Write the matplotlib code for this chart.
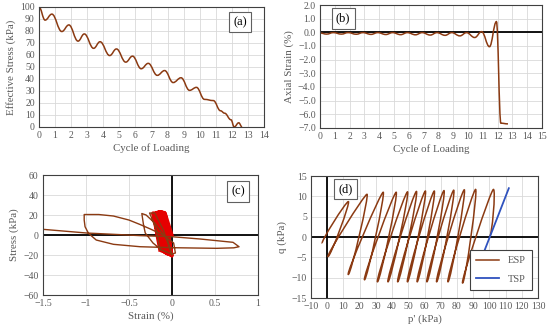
import matplotlib
matplotlib.use('Agg')
import matplotlib.pyplot as plt
from matplotlib.path import Path
from matplotlib.patches import PathPatch
from matplotlib.lines import Line2D

plt.rcParams['font.family'] = ['Liberation Serif', 'DejaVu Serif']

BROWN = '#8B3A12'
RED = '#E60000'
BLUE = '#2F52BE'
GRID = '#D9D9D9'
TXT = '#595959'

# (a) effective stress vs cycle: turning points of the curve
a_cycle = [0, 0.38, 0.8, 1.42, 1.86, 2.43, 2.82, 3.4, 3.8, 4.4, 4.82, 5.4, 5.82,
           6.36, 6.8, 7.36, 7.82, 8.35, 8.84, 9.37, 9.8, 10.3, 10.85, 11.3, 11.55,
           11.95, 12.15, 12.43, 12.64]
a_stress = [100, 89, 94, 79.5, 85, 71.5, 77.5, 65.5, 71, 59.5, 65, 54, 59,
            48.5, 53, 43, 47, 37, 41, 30.5, 33, 23, 22, 13.5, 11.5,
            6, 0, 3.5, 0]

# (b) axial strain vs cycle: turning points
b_cycle = [0, 0.45, 0.9, 1.45, 1.9, 2.45, 2.9, 3.45, 3.9, 4.45, 4.9, 5.45, 5.9,
           6.45, 6.9, 7.45, 7.9, 8.45, 8.9, 9.45, 9.9, 10.45, 10.92, 11.45,
           11.92, 12.22, 12.7]
b_strain = [-0.05, -0.13, -0.02, -0.13, -0.02, -0.14, -0.02, -0.15, -0.02, -0.16,
            -0.02, -0.17, -0.02, -0.18, -0.02, -0.2, -0.02, -0.22, -0.02, -0.26,
            -0.02, -0.38, 0.05, -1.05, 0.78, -6.65, -6.7]

# (c) stress-strain: early cycles (red) and last cycles (brown)
c_red_strain = [0.0, -0.08, 0.0, -0.09, -0.01, -0.10, -0.02, -0.11, -0.03, -0.12,
                -0.04, -0.13, -0.05, -0.14, -0.06, -0.15, -0.07, -0.16, -0.08,
                -0.17, -0.09, -0.18, -0.10, -0.20, -0.12, -0.22, -0.14]
c_red_stress = [0, 22, -21, 22.5, -20, 22.5, -20, 23, -19.5, 23, -19, 23, -19,
                23, -18.5, 23, -18, 23, -17.5, 22.5, -17, 22.5, -16.5, 22, -16,
                22, -15]
c_brn_strain = [-0.14, -0.18, -0.24, -0.26, -0.2, -0.1, -0.02, 0.0, -0.05, -0.2,
                -0.3, -0.35, -0.33, -0.31, -0.22, -0.12, 0.0, 0.04, 0.02, -0.1,
                -0.25, -0.37, -0.5, -0.68, -0.85, -1.02, -1.02, -1.01, -0.97,
                -0.88, -0.68, -0.37, 0.02, 0.52, 0.72, 0.78, 0.71, 0.33, 0.0,
                -0.37, -0.99, -1.5, -1.7]
c_brn_stress = [-15, 5, 18, 22, 22, 5, -15, -20, -5, 12,
                20, 21.5, 10, 2, -8, -15, -19, -18, -8, 0,
                6, 10.5, 15, 19, 20.5, 20.5, 15, 8.3, 1.7,
                -5, -9.3, -11.7, -12.7, -13.3, -12.8, -11.7, -7.3, -4, -1.7,
                -0.6, 2, 5.7, 7]

# (d) stress path: ESP turning points (start, tops and bottoms) and TSP
esp_p = [100, 102.5, 83.5, 91.5, 74.5, 84.5, 67.5, 78, 61.5, 72, 55.5, 66,
         49.5, 60.5, 43.5, 55, 37.5, 49.5, 31, 42.5, 23, 34.5, 13, 24.5,
         0.5, 13, -3]
esp_q = [0, 11.7, -11.3, 11.7, -11, 11.6, -11, 11.5, -11, 11.4, -11, 11.3,
         -11, 11.3, -11, 11.2, -11, 11.1, -11, 11, -10.5, 11, -9.2, 10.5,
         -4.8, 8.7, -1.5]
tsp_p = [89, 112]
tsp_q = [-11.5, 12]


def wave_path(x, y, k=0.4):
    # horizontal tangents at each turning point
    verts = [(x[0], y[0])]
    codes = [Path.MOVETO]
    for i in range(len(x) - 1):
        dx = x[i + 1] - x[i]
        verts += [(x[i] + k * dx, y[i]), (x[i + 1] - k * dx, y[i + 1]), (x[i + 1], y[i + 1])]
        codes += [Path.CURVE4] * 3
    return Path(verts, codes)


def loop_path(p, q, a=1.6):
    # rounded tips: moving left at tops, right at bottoms
    verts = [(p[0], q[0])]
    codes = [Path.MOVETO]
    for i in range(len(p) - 1):
        s = a if q[i + 1] > q[i] else -a
        verts += [(p[i] + s, q[i]), (p[i + 1] + s, q[i + 1]), (p[i + 1], q[i + 1])]
        codes += [Path.CURVE4] * 3
    return Path(verts, codes)


def style(ax, xt, yt, xlab, ylab, xfmt=None, yfmt=None):
    ax.set_xticks(xt)
    ax.set_yticks(yt)
    ax.set_xlim(xt[0], xt[-1])
    ax.set_ylim(yt[0], yt[-1])
    if xfmt:
        ax.set_xticklabels([xfmt(v) for v in xt])
    if yfmt:
        ax.set_yticklabels([yfmt(v) for v in yt])
    ax.grid(True, color=GRID, lw=0.6)
    ax.set_axisbelow(True)
    for s in ax.spines.values():
        s.set_color('#404040')
        s.set_linewidth(0.8)
    ax.tick_params(length=0, pad=3, labelsize=7, colors=TXT)
    ax.set_xlabel(xlab, fontsize=7.8, color=TXT, labelpad=2)
    ax.set_ylabel(ylab, fontsize=7.8, color=TXT, labelpad=3)


def tag(ax, txt, x, y):
    ax.text(x, y, txt, transform=ax.transAxes, ha='center', va='center',
            fontsize=9, color='#000000', zorder=10,
            bbox=dict(boxstyle='square,pad=0.35', fc='white', ec='#606060', lw=0.8))


def minus(v):
    s = ('%g' % v)
    return s.replace('-', '\u2212')


fig = plt.figure(figsize=(5.5, 3.29), dpi=100)

# (a)
ax1 = fig.add_axes([0.0709, 0.614, 0.409, 0.365])
ax1.add_patch(PathPatch(wave_path(a_cycle, a_stress), fill=False, ec=BROWN, lw=1.1))
style(ax1, list(range(0, 15)), list(range(0, 101, 10)), 'Cycle of Loading', 'Effective Stress (kPa)')
tag(ax1, '(a)', 0.893, 0.875)

# (b)
ax2 = fig.add_axes([0.5818, 0.611, 0.4037, 0.3738])
ax2.axhline(0, color='black', lw=1.3, zorder=1.5)
ax2.add_patch(PathPatch(wave_path(b_cycle, b_strain), fill=False, ec=BROWN, lw=1.1, zorder=2))
style(ax2, list(range(0, 16)), list(range(-7, 3)), 'Cycle of Loading', 'Axial Strain (%)',
      yfmt=lambda v: ('%.1f' % v).replace('-', '\u2212'))
tag(ax2, '(b)', 0.104, 0.89)

# (c)
ax3 = fig.add_axes([0.078, 0.1033, 0.391, 0.3647])
ax3.axhline(0, color='black', lw=1.3, zorder=1.5)
ax3.axvline(0, color='black', lw=1.3, zorder=1.5)
ax3.plot(c_red_strain, c_red_stress, color=RED, lw=2.4, zorder=2)
ax3.plot(c_brn_strain, c_brn_stress, color=BROWN, lw=1.0, zorder=2.5)
style(ax3, [-1.5, -1, -0.5, 0, 0.5, 1], list(range(-60, 61, 20)), 'Strain (%)', 'Stress (kPa)',
      xfmt=minus, yfmt=minus)
tag(ax3, '(c)', 0.907, 0.8625)

# (d)
ax4 = fig.add_axes([0.5655, 0.0942, 0.4127, 0.3708])
ax4.axhline(0, color='black', lw=1.3, zorder=1.5)
ax4.axvline(0, color='black', lw=1.3, zorder=1.5)
ax4.add_patch(PathPatch(loop_path(esp_p, esp_q), fill=False, ec=BROWN, lw=1.1, zorder=2))
ax4.plot(tsp_p, tsp_q, color=BLUE, lw=1.3, zorder=2)
style(ax4, list(range(-10, 131, 10)), list(range(-15, 16, 5)), "p' (kPa)", 'q (kPa)',
      xfmt=minus, yfmt=minus)
tag(ax4, '(d)', 0.154, 0.893)
handles = [Line2D([], [], color=BROWN, lw=1.1), Line2D([], [], color=BLUE, lw=1.3)]
leg = ax4.legend(handles, ['ESP', 'TSP'], loc='lower right', fontsize=7.5, fancybox=False,
                 edgecolor='#404040', framealpha=1, handlelength=2.2, borderpad=0.6,
                 labelspacing=0.9, bbox_to_anchor=(0.995, 0.02))
leg.get_frame().set_linewidth(0.8)
for t in leg.get_texts():
    t.set_color(TXT)

fig.savefig('out.png', dpi=100)
